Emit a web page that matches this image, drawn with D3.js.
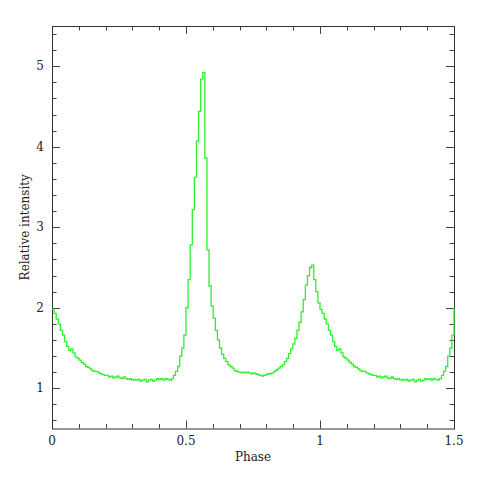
<!DOCTYPE html>
<html>
<head>
<meta charset="utf-8">
<script src="https://cdn.jsdelivr.net/npm/d3@7"></script>
<style>
  body { margin: 0; background: #fff; }
  .tick-label { font-family: "DejaVu Serif", serif; font-size: 12px; fill: #222; }
</style>
</head>
<body>
<div id="chart"></div>
<script>
// one period of the pulse profile, 128 phase bins (relative intensity)
var profile = [
  1.98, 1.93, 1.86, 1.80, 1.72, 1.66, 1.58, 1.52, 1.47, 1.49,
  1.44, 1.39, 1.37, 1.35, 1.32, 1.30, 1.27, 1.26, 1.24, 1.22,
  1.21, 1.21, 1.19, 1.18, 1.17, 1.16, 1.16, 1.14, 1.15, 1.13,
  1.14, 1.15, 1.13, 1.12, 1.14, 1.12, 1.11, 1.12, 1.10, 1.11,
  1.10, 1.11, 1.09, 1.10, 1.11, 1.08, 1.10, 1.11, 1.09, 1.10,
  1.12, 1.11, 1.12, 1.10, 1.12, 1.11, 1.10, 1.12, 1.16, 1.21,
  1.27, 1.40, 1.50, 1.66, 2.00, 2.35, 2.78, 3.22, 3.62, 4.07,
  4.44, 4.84, 4.92, 3.86, 2.72, 2.27, 2.02, 1.87, 1.72, 1.60,
  1.50, 1.42, 1.37, 1.33, 1.29, 1.27, 1.25, 1.22, 1.21, 1.20,
  1.19, 1.20, 1.19, 1.20, 1.19, 1.18, 1.19, 1.18, 1.17, 1.16,
  1.15, 1.16, 1.17, 1.18, 1.18, 1.19, 1.21, 1.23, 1.25, 1.27,
  1.29, 1.33, 1.37, 1.43, 1.49, 1.55, 1.62, 1.72, 1.82, 1.95,
  2.10, 2.28, 2.40, 2.50, 2.53, 2.35, 2.20, 2.06
];
var phaseRange = [0, 1.5];
var intensityRange = [0.5, 5.5];
var phaseLabels = [0, 0.5, 1, 1.5];
var intensityLabels = [1, 2, 3, 4, 5];
var xTitle = "Phase";
var yTitle = "Relative intensity";

var margin = {top: 26, right: 26, bottom: 51.5, left: 52}
    , width = 480 - margin.left - margin.right
    , height = 480 - margin.top - margin.bottom;

var nBins = profile.length;
var data = [];
for (var i = 0; i <= phaseRange[1] * nBins; i++) {
    data.push({phase: i / nBins, value: profile[i % nBins]});
}

var x = d3.scaleLinear().domain(phaseRange).range([0, width]);
var y = d3.scaleLinear().domain(intensityRange).range([height, 0]);

var svg = d3.select('#chart').append('svg')
    .attr('width', 480)
    .attr('height', 480);

var main = svg.append('g')
    .attr('transform', 'translate(' + margin.left + ',' + margin.top + ')');

main.append('clipPath').attr('id', 'clip')
    .append('rect').attr('x', 0).attr('y', 0)
    .attr('width', width + 1.5).attr('height', height);

// the profile as a histogram-style step line
var line = d3.line()
    .x(function (d) { return x(d.phase); })
    .y(function (d) { return y(d.value); })
    .curve(d3.curveStepAfter);

// ticks on all four sides, pointing in
var xMinor = d3.range(0, 1.5001, 0.1);
var yMinor = d3.range(0.6, 5.4001, 0.2);
var tickColor = '#444';

function isMajor(v, step) {
    return Math.abs(v / step - Math.round(v / step)) < 1e-6;
}

var ticks = main.append('g').style('stroke', tickColor).style('stroke-width', 1);

xMinor.forEach(function (v) {
    var len = isMajor(v, 0.5) ? 8 : 4.5;
    var px = Math.round(x(v)) + 0.5;
    ticks.append('line').attr('x1', px).attr('x2', px).attr('y1', height).attr('y2', height - len);
    ticks.append('line').attr('x1', px).attr('x2', px).attr('y1', 0).attr('y2', len);
});

yMinor.forEach(function (v) {
    var len = isMajor(v, 1) ? 8 : 4.5;
    var py = Math.round(y(v)) + 0.5;
    ticks.append('line').attr('x1', 0).attr('x2', len).attr('y1', py).attr('y2', py);
    ticks.append('line').attr('x1', width).attr('x2', width - len).attr('y1', py).attr('y2', py);
});

main.append('rect')
    .attr('x', 0.5).attr('y', 0.5)
    .attr('width', width).attr('height', height)
    .style('fill', 'none')
    .style('stroke', '#333')
    .style('stroke-width', 1);

// drawn after the frame so the last rise shows on the right edge
main.append('path')
    .datum(data)
    .attr('clip-path', 'url(#clip)')
    .attr('d', line)
    .style('fill', 'none')
    .style('stroke', '#2ef02e')
    .style('stroke-width', 1.3);

// tick labels
main.selectAll('.xlab')
    .data(phaseLabels)
    .enter().append('text')
    .attr('class', 'tick-label')
    .attr('x', function (d) { return x(d); })
    .attr('y', height + 16)
    .attr('text-anchor', 'middle')
    .text(function (d) { return d; });

main.selectAll('.ylab')
    .data(intensityLabels)
    .enter().append('text')
    .attr('class', 'tick-label')
    .attr('x', -8)
    .attr('y', function (d) { return y(d) + 4; })
    .attr('text-anchor', 'end')
    .text(function (d) { return d; });

// axis titles
main.append('text')
    .attr('class', 'tick-label')
    .attr('x', width / 2)
    .attr('y', height + 32)
    .attr('text-anchor', 'middle')
    .text(xTitle);

main.append('text')
    .attr('class', 'tick-label')
    .attr('transform', 'translate(-23,' + (height / 2) + ') rotate(-90)')
    .attr('text-anchor', 'middle')
    .text(yTitle);
</script>
</body>
</html>
